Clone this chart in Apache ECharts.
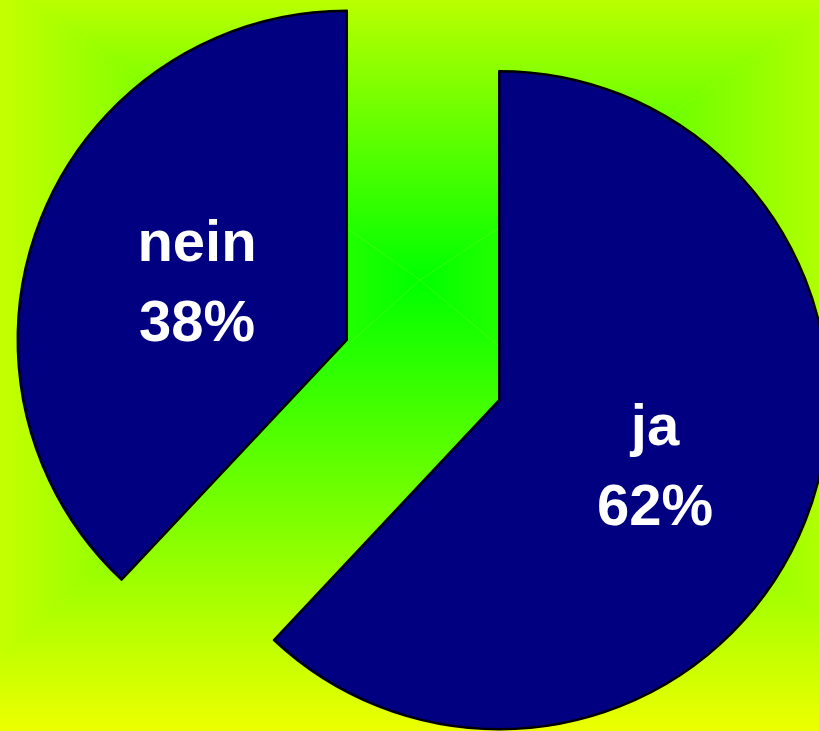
<!DOCTYPE html>
<html>
<head>
<meta charset="utf-8">
<script src="https://cdn.jsdelivr.net/npm/echarts@6/dist/echarts.min.js"></script>
<style>html,body{margin:0;padding:0;}#c{width:819px;height:731px;}</style>
</head>
<body>
<div id="c"></div>
<script>
var categories = ['ja', 'nein'];
var values = [62, 38];

// background: rectangular path gradient (green centre -> yellow border)
var cx = 420, cy = 280;
var L = -120, R = 1000, T = -105, B = 765;
var centerColor = '#00ff00', edgeColor = '#ffff00';
function tri(points, x1, y1, x2, y2) {
  return {
    type: 'polygon', z: -10, silent: true,
    shape: { points: points },
    style: { fill: new echarts.graphic.LinearGradient(x1, y1, x2, y2, [
      { offset: 0, color: centerColor }, { offset: 1, color: edgeColor }], true) }
  };
}
var bg = [
  tri([[cx, cy], [L, T], [R, T]], 0, cy, 0, T),
  tri([[cx, cy], [R, B], [L, B]], 0, cy, 0, B),
  tri([[cx, cy], [L, B], [L, T]], cx, 0, L, 0),
  tri([[cx, cy], [R, T], [R, B]], cx, 0, R, 0)
];
var labelPads = [[0, 0, 0, 0], [0, 0, 0, 12]];

var chart = echarts.init(document.getElementById('c'));
chart.setOption({
  backgroundColor: '#ccff00',
  animation: false,
  graphic: bg,
  series: [{
    type: 'pie',
    z: 5,
    center: [423, 370],
    radius: 329,
    startAngle: 90,
    clockwise: true,
    selectedMode: 'multiple',
    selectedOffset: 82,
    itemStyle: { color: '#000080', borderColor: '#000000', borderWidth: 2.5 },
    label: {
      show: true, position: 'inside',
      formatter: '{t|}\n{b}\n{d}%',
      color: '#ffffff', fontFamily: 'Liberation Sans, Arial, sans-serif',
      fontWeight: 'bold', fontSize: 58, lineHeight: 80,
      rich: { t: { fontSize: 10, lineHeight: 14 } }
    },
    labelLine: { show: false },
    emphasis: { disabled: true },
    data: categories.map(function (c, i) {
      return { name: c, value: values[i], selected: true, label: { padding: labelPads[i] } };
    })
  }]
});
</script>
</body>
</html>
